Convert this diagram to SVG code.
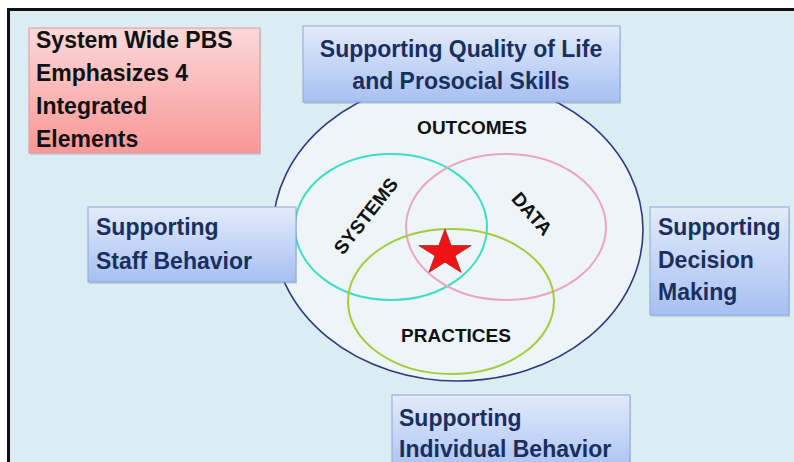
<svg xmlns="http://www.w3.org/2000/svg" width="794" height="462" viewBox="0 0 794 462">
  <defs>
    <linearGradient id="blueFill" x1="0" y1="0" x2="0" y2="1">
      <stop offset="0" stop-color="#e3ebfb"/>
      <stop offset="1" stop-color="#a7c0f1"/>
    </linearGradient>
    <linearGradient id="redFill" x1="0" y1="0" x2="0" y2="1">
      <stop offset="0" stop-color="#fcd9d9"/>
      <stop offset="1" stop-color="#fa9797"/>
    </linearGradient>
    <style>
      .box { fill: url(#blueFill); stroke: #8ea7d6; stroke-width: 1; }
      .shadow { fill: #6b7f99; opacity: 0.25; }
      .label { font-family: "Liberation Sans", Arial, sans-serif; font-weight: bold; font-size: 23px; fill: #1a2f5f; }
      .title { font-family: "Liberation Sans", Arial, sans-serif; font-weight: bold; font-size: 23px; fill: #111111; }
      .venn { font-family: "Liberation Sans", Arial, sans-serif; font-weight: bold; font-size: 19px; fill: #111111; }
      .ring { fill: none; stroke-width: 2; }
    </style>
  </defs>

  <!-- page and frame -->
  <rect x="0" y="0" width="794" height="462" fill="#ffffff"/>
  <rect x="10" y="11" width="784" height="451" fill="#dbedf3"/>
  <rect x="7" y="8" width="787" height="3" fill="#111111"/>
  <rect x="7" y="8" width="3" height="454" fill="#111111"/>

  <!-- outcomes ellipse with the three overlapping elements -->
  <g id="venn">
    <ellipse cx="458" cy="230" rx="185" ry="151" fill="#eef5f9" stroke="#2f3a80" stroke-width="1.6"/>
    <ellipse class="ring" cx="391" cy="227" rx="96" ry="73" stroke="#3fdcc6"/>
    <ellipse class="ring" cx="506" cy="227" rx="100" ry="73" stroke="#eba3c6"/>
    <ellipse class="ring" cx="451" cy="301.5" rx="103" ry="72.5" stroke="#a9c93c"/>
    <polygon points="445,229 451.2,245.6 471.2,245.6 455,255.8 461.2,272.4 445,262.2 428.8,272.4 435,255.8 418.8,245.6 438.8,245.6" fill="#f21414" stroke="#9c2a2a" stroke-width="0.8"/>
    <text class="venn" x="472" y="134" text-anchor="middle">OUTCOMES</text>
    <text class="venn" text-anchor="middle" transform="translate(371,220) rotate(-52)">SYSTEMS</text>
    <text class="venn" text-anchor="middle" transform="translate(527,218) rotate(49)">DATA</text>
    <text class="venn" x="456" y="342" text-anchor="middle">PRACTICES</text>
  </g>

  <g id="title-box">
    <rect class="shadow" x="30" y="30" width="231" height="125"/>
    <rect x="29" y="28" width="231" height="125" fill="url(#redFill)" stroke="#e39a9a" stroke-width="1"/>
    <text class="title" x="36" y="48">System Wide PBS</text>
    <text class="title" x="36" y="81">Emphasizes 4</text>
    <text class="title" x="36" y="114">Integrated</text>
    <text class="title" x="36" y="147">Elements</text>
  </g>

  <g id="quality-of-life">
    <rect class="shadow" x="304" y="28" width="317" height="76"/>
    <rect class="box" x="303" y="26" width="317" height="76"/>
    <text class="label" x="461" y="57" text-anchor="middle">Supporting Quality of Life</text>
    <text class="label" x="461" y="89" text-anchor="middle">and Prosocial Skills</text>
  </g>

  <g id="staff-behavior">
    <rect class="shadow" x="89" y="209" width="208" height="75"/>
    <rect class="box" x="88" y="207" width="208" height="75"/>
    <text class="label" x="96" y="235">Supporting</text>
    <text class="label" x="96" y="269">Staff Behavior</text>
  </g>

  <g id="decision-making">
    <rect class="shadow" x="651" y="209" width="139" height="108"/>
    <rect class="box" x="650" y="207" width="139" height="108"/>
    <text class="label" x="658" y="235">Supporting</text>
    <text class="label" x="658" y="268">Decision</text>
    <text class="label" x="658" y="300">Making</text>
  </g>

  <g id="individual-behavior">
    <rect class="shadow" x="393" y="397" width="238" height="80"/>
    <rect class="box" x="392" y="395" width="238" height="80"/>
    <text class="label" x="399" y="426">Supporting</text>
    <text class="label" x="399" y="457">Individual Behavior</text>
  </g>
</svg>
